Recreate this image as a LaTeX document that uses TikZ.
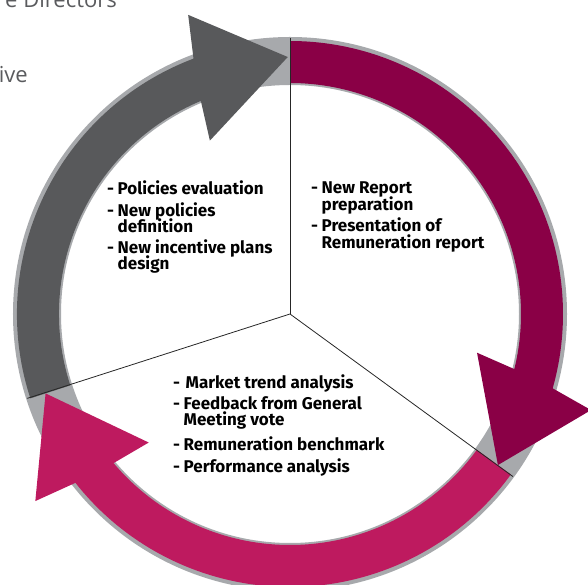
\documentclass[tikz,border=0pt]{standalone}
\usepackage{fontspec}
\setmainfont{Fira Sans}
\newfontfamily\bgfont{Open Sans}
\definecolor{ringgray}{HTML}{A7A9AC}
\definecolor{slate}{HTML}{58595B}
\definecolor{wine}{HTML}{8A0046}
\definecolor{rasp}{HTML}{BE1A5F}
\definecolor{bgtext}{HTML}{5A5B5E}
\newcommand\ringarrow[3]{%
  \fill[#1] (#2:273pt) arc[start angle=#2, end angle={#3+20.2}, radius=273pt]
    -- ({#3+18.3}:316pt) -- (#3:257pt) -- ({#3+24.3}:191pt)
    -- ({#3+22.2}:231pt) arc[start angle={#3+22.2}, end angle=#2, radius=231pt] -- cycle;}
\newcommand\itm{\makebox[10.5pt][l]{-}}
\newcommand\cnt{\hspace*{10.5pt}}
\newcommand\txtfont{\fontsize{17}{16.5}\selectfont\bfseries\setlength{\lineskiplimit}{-30pt}\relax}
\tikzset{
  divider/.style={draw=black!85, line width=0.8pt},
  txt/.style={inner sep=0pt, align=left, text=black, font=\txtfont},
  bgtxt/.style={inner sep=0pt, font=\bgfont\fontsize{22}{26}\selectfont, text=bgtext}
}
\begin{document}
\begin{tikzpicture}[x=1pt,y=1pt]
\useasboundingbox (-290pt,-271pt) rectangle (298pt,314pt);
\node[bgtxt, anchor=base east] (bg1) at (-173pt,306pt) {e Directors};
\node[bgtxt, anchor=base east] (bg2) at (-262pt,231pt) {ive};
\coordinate (c) at (0,0);
\fill[ringgray, even odd rule] (c) circle[radius=277pt] (c) circle[radius=229pt];
\ringarrow{wine}{90}{-36}
\ringarrow{rasp}{-36}{-162}
\ringarrow{slate}{198}{90.5}
\coordinate (e1) at (90:276pt);
\coordinate (e2) at (-36.1:276pt);
\coordinate (e3) at (-162.2:276pt);
\draw[divider] (c) -- (e1);
\draw[divider] (c) -- (e2);
\draw[divider] (c) -- (e3);
\node[txt, anchor=north west] (t1) at (-183pt,133pt) {%
\itm Policies evaluation\\[5pt]
\itm New policies\\
\cnt definition\\[4pt]
\itm New incentive plans\\
\cnt design};
\node[txt, anchor=north west] (t2) at (21pt,132pt) {%
\itm New Report\\
\cnt preparation\\[5pt]
\itm Presentation of\\
\cnt Remuneration report};
\node[txt, anchor=north west] (t3) at (-117pt,-61pt) {%
\itm\hspace{2pt}Market trend analysis\\[4pt]
\itm Feedback from General\\
\cnt Meeting vote\\[8pt]
\itm Remuneration benchmark\\[5.5pt]
\itm Performance analysis};
\end{tikzpicture}
\end{document}
